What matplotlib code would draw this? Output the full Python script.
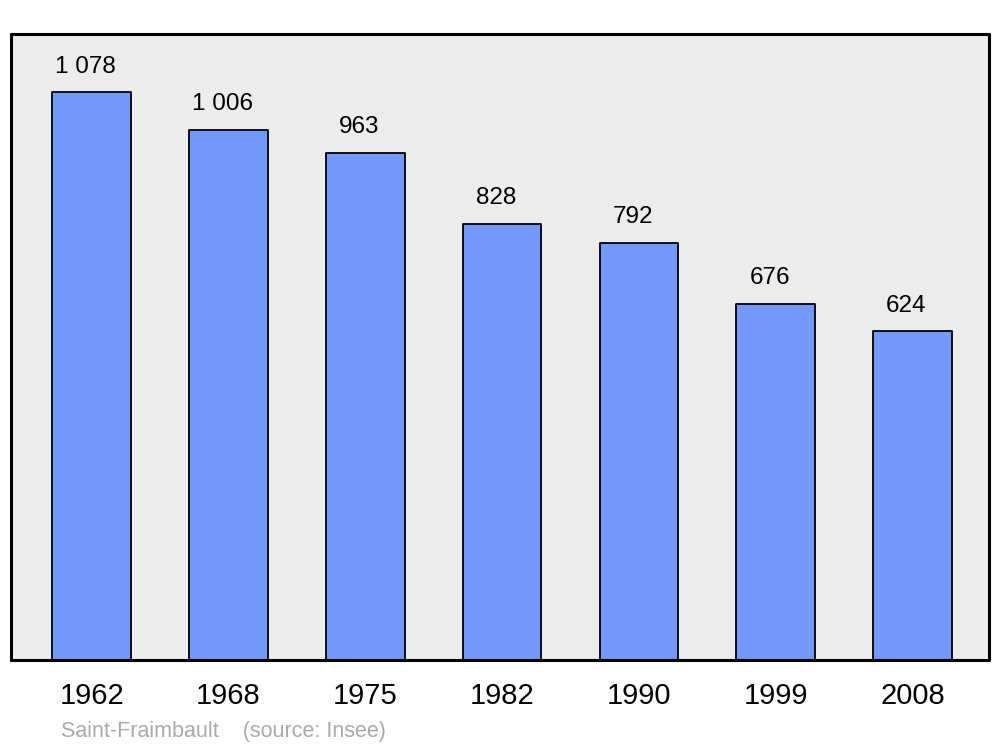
import matplotlib
matplotlib.use("Agg")
import matplotlib.pyplot as plt

plt.rcParams['font.family'] = ['Liberation Sans', 'DejaVu Sans']

years = ['1962', '1968', '1975', '1982', '1990', '1999', '2008']
population = [1078, 1006, 963, 828, 792, 676, 624]
value_labels = ['1 078', '1 006', '963', '828', '792', '676', '624']

BAR_COLOR = '#7399ff'
BG_COLOR = '#ececec'

fig = plt.figure(figsize=(10, 7.47), dpi=100)
ax = fig.add_axes([11 / 1000, (747 - 660) / 747, 978 / 1000, 626 / 747])
ax.set_facecolor(BG_COLOR)

x = list(range(len(years)))
ax.bar(x, population, width=0.575, color=BAR_COLOR, edgecolor='black',
       linewidth=1.3, joinstyle='round', zorder=2)

# labels sit a little left of the bar centre in the original
for xi, v, lab in zip(x, population, value_labels):
    ax.annotate(lab, (xi, v), xytext=(-4.3, 14), textcoords='offset points',
                ha='center', va='baseline', fontsize=17.5)

ax.set_xlim(-0.59, 6.56)
ax.set_ylim(0, 1188)
ax.set_xticks(x)
ax.set_xticklabels(years, fontsize=21)
ax.tick_params(axis='x', length=0, pad=16)
ax.set_yticks([])
for s in ax.spines.values():
    s.set_linewidth(2.2)
    s.set_capstyle('round')

fig.text(0.061, 1 - 737 / 747, 'Saint-Fraimbault    (source: Insee)',
         color='#aaaaaa', fontsize=15.5, va='baseline')

fig.savefig('out.png', dpi=100)
